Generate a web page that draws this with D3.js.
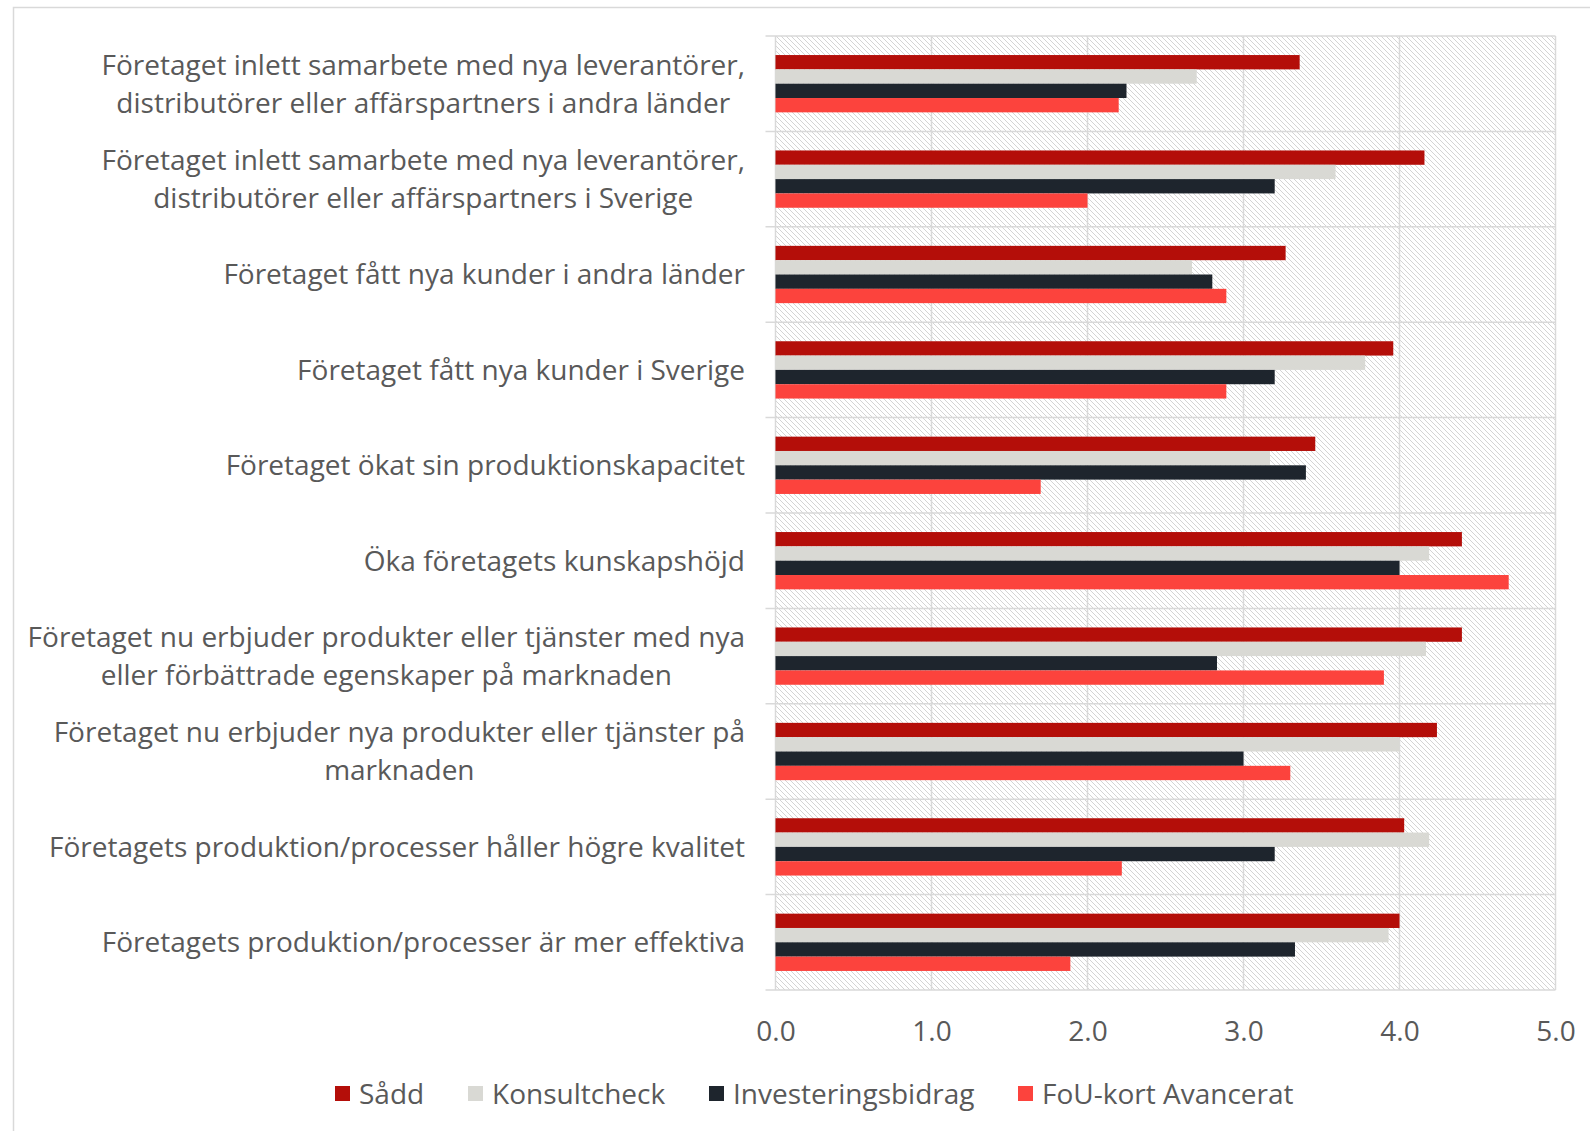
<!DOCTYPE html>
<html>
<head>
<meta charset="utf-8">
<script src="https://cdn.jsdelivr.net/npm/d3@7"></script>
<style>
  html, body { margin: 0; padding: 0; background: #fff; }
  svg { display: block; }
  text { font-family: "Open Sans", Lato, sans-serif; fill: #595959; }
</style>
</head>
<body>
<svg id="chart" width="1590" height="1131"></svg>
<script>
// ---- data ----
const categories = [
  ["Företaget inlett samarbete med nya leverantörer,", "distributörer eller affärspartners i andra länder"],
  ["Företaget inlett samarbete med nya leverantörer,", "distributörer eller affärspartners i Sverige"],
  ["Företaget fått nya kunder i andra länder"],
  ["Företaget fått nya kunder i Sverige"],
  ["Företaget ökat sin produktionskapacitet"],
  ["Öka företagets kunskapshöjd"],
  ["Företaget nu erbjuder produkter eller tjänster med nya", "eller förbättrade egenskaper på marknaden"],
  ["Företaget nu erbjuder nya produkter eller tjänster på", "marknaden"],
  ["Företagets produktion/processer håller högre kvalitet"],
  ["Företagets produktion/processer är mer effektiva"]
];
const seriesNames = ["Sådd", "Konsultcheck", "Investeringsbidrag", "FoU-kort Avancerat"];
const sadd          = [3.36, 4.16, 3.27, 3.96, 3.46, 4.40, 4.40, 4.24, 4.03, 4.00];
const konsultcheck  = [2.70, 3.59, 2.67, 3.78, 3.17, 4.19, 4.17, 4.00, 4.19, 3.93];
const investering   = [2.25, 3.20, 2.80, 3.20, 3.40, 4.00, 2.83, 3.00, 3.20, 3.33];
const fouKort       = [2.20, 2.00, 2.89, 2.89, 1.70, 4.70, 3.90, 3.30, 2.22, 1.89];
const xTicks = [0, 1, 2, 3, 4, 5];
const colors = ["#B40E09", "#D9D9D4", "#1E252D", "#FC433D"];

const seriesValues = [sadd, konsultcheck, investering, fouKort];

// ---- layout ----
const svg = d3.select("#chart");
const pLeft = 775.5, pRight = 1555.5, pTop = 36, pBottom = 990;

const x = d3.scaleLinear().domain([0, 5]).range([pLeft, pRight]);
const y = d3.scaleBand().domain(d3.range(categories.length)).range([pTop, pBottom]).paddingInner(0).paddingOuter(0);
const ySub = d3.scaleBand().domain(d3.range(seriesNames.length)).range([0, y.bandwidth()]).paddingInner(0).paddingOuter(1.33);

// outer border
svg.append("rect").attr("x", 13.5).attr("y", 7.5).attr("width", 1600).attr("height", 1200)
  .attr("fill", "none").attr("stroke", "#d9d9d9").attr("stroke-width", 1.5);

// hatch pattern
const defs = svg.append("defs");
const pat = defs.append("pattern").attr("id", "hatch").attr("patternUnits", "userSpaceOnUse")
  .attr("width", 5).attr("height", 5);
pat.append("rect").attr("width", 5).attr("height", 5).attr("fill", "#ffffff");
pat.append("path").attr("d", "M0,0 L5,5 M-1,4 L1,6 M4,-1 L6,1")
  .attr("stroke", "#d4d4d4").attr("stroke-width", 1);

svg.append("rect").attr("x", pLeft).attr("y", pTop).attr("width", pRight - pLeft).attr("height", pBottom - pTop)
  .attr("fill", "url(#hatch)");

// vertical gridlines
svg.append("g").selectAll("line").data(xTicks).join("line")
  .attr("x1", d => x(d)).attr("x2", d => x(d)).attr("y1", pTop).attr("y2", pBottom)
  .attr("stroke", "#d9d9d9").attr("stroke-width", 1.5);

// horizontal category separators with ticks
const bounds = d3.range(categories.length + 1).map(i => pTop + i * y.step());
svg.append("g").selectAll("line").data(bounds).join("line")
  .attr("x1", pLeft - 10).attr("x2", pRight).attr("y1", d => d).attr("y2", d => d)
  .attr("stroke", "#d9d9d9").attr("stroke-width", 1.5);

// bars
const bars = svg.append("g");
seriesValues.forEach((vals, s) => {
  bars.append("g").selectAll("rect").data(vals).join("rect")
    .attr("x", x(0))
    .attr("y", (d, i) => y(i) + ySub(s))
    .attr("width", d => x(d) - x(0))
    .attr("height", ySub.bandwidth())
    .attr("fill", colors[s]);
});

const fs = 28;

// x axis labels
const xAxis = d3.axisBottom(x).tickValues(xTicks).tickFormat(d3.format(".1f")).tickSize(0).tickPadding(0);
const xg = svg.append("g").attr("transform", `translate(0, ${pBottom + 31})`).call(xAxis);
xg.select(".domain").remove();
xg.selectAll("text").attr("font-size", fs).attr("dy", "0.71em").style("fill", "#595959")
  .style("font-family", "'Open Sans', Lato, sans-serif");

// category labels
const labelRight = 745;
const lineH = 38;
const lg = svg.append("g");
categories.forEach((lines, i) => {
  const cy = y(i) + y.bandwidth() / 2;
  const g = lg.append("g");
  const texts = lines.map((ln, k) => g.append("text")
      .attr("font-size", fs)
      .attr("y", cy + (k - (lines.length - 1) / 2) * lineH)
      .attr("dy", "0.35em")
      .text(ln));
  const widths = texts.map(t => t.node().getComputedTextLength());
  const maxW = d3.max(widths);
  const cx = labelRight - maxW / 2;
  texts.forEach(t => t.attr("x", cx).attr("text-anchor", "middle"));
});

// legend
const legendX = [335, 468, 709, 1018];
const lgd = svg.append("g");
seriesNames.forEach((n, s) => {
  lgd.append("rect").attr("x", legendX[s]).attr("y", 1086).attr("width", 15).attr("height", 15).attr("fill", colors[s]);
  lgd.append("text").attr("x", legendX[s] + 24).attr("y", 1094).attr("dy", "0.35em").attr("font-size", fs).text(n);
});
</script>
</body>
</html>
